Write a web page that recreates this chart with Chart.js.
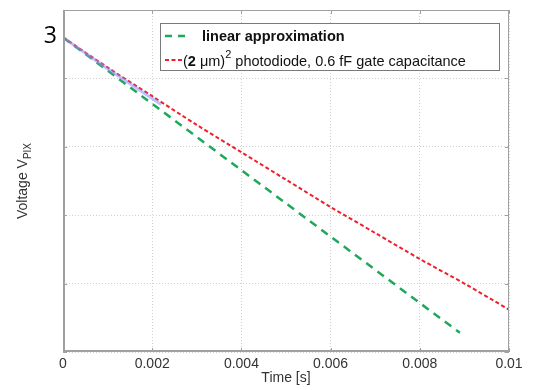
<!DOCTYPE html>
<html>
<head>
<meta charset="utf-8">
<script src="https://cdn.jsdelivr.net/npm/chart.js@4"></script>
<style>
  html, body { margin: 0; padding: 0; background: #fff; }
  #wrap { width: 536px; height: 390px; }
</style>
</head>
<body>
<div id="wrap"><canvas id="chart" width="536" height="390"></canvas></div>
<script>
// data
const photoTimes = [0, 0.001, 0.002, 0.003, 0.004, 0.005, 0.006, 0.007, 0.008, 0.009, 0.01];
const photoVolts = [3.0, 2.78, 2.57, 2.36, 2.16, 1.96, 1.76, 1.57, 1.38, 1.2, 1.01];
const linearTimes = [0, 0.0089];
const linearVolts = [3.0, 0.84];
const simTimes = [0, 0.001, 0.0022];
const simVolts = [3.0, 2.77, 2.51];
const xTicks = [0, 0.002, 0.004, 0.006, 0.008, 0.01];
const yGrid = [0.7, 1.2, 1.7, 2.2, 2.7, 3.2];
const startLabel = '3';
const startVolt = 3.0;

const GREEN = '#1fa85a';
const RED = '#f0202a';
const FONT = '"Liberation Sans", Arial, sans-serif';

function toPoints(xs, ys) {
    return xs.map((x, i) => ({ x: x, y: ys[i] }));
}

// frame, tick marks, legend box, y title and the "3" label
const decorPlugin = {
    id: 'decor',
    afterDatasetsDraw(chart) {
        const ctx = chart.ctx;
        const a = chart.chartArea;
        const xs = chart.scales.x, ys = chart.scales.y;
        ctx.save();

        // box around the plot
        ctx.strokeStyle = '#a0a0a0';
        ctx.lineWidth = 1;
        ctx.strokeRect(a.left + 0.5, a.top + 0.5, a.right - a.left - 1, a.bottom - a.top - 1);
        // bottom and left edges a bit heavier
        ctx.lineWidth = 2;
        ctx.beginPath();
        ctx.moveTo(a.left + 1, a.top); ctx.lineTo(a.left + 1, a.bottom - 1); ctx.lineTo(a.right, a.bottom - 1);
        ctx.stroke();
        ctx.lineWidth = 1;

        // inward tick marks
        ctx.beginPath();
        xTicks.forEach(t => {
            const px = Math.round(xs.getPixelForValue(t)) + 0.5;
            ctx.moveTo(px, a.top); ctx.lineTo(px, a.top + 4);
            ctx.moveTo(px, a.bottom); ctx.lineTo(px, a.bottom - 4);
        });
        yGrid.forEach(v => {
            const py = Math.round(ys.getPixelForValue(v)) + 0.5;
            ctx.moveTo(a.left, py); ctx.lineTo(a.left + 4, py);
            ctx.moveTo(a.right, py); ctx.lineTo(a.right - 4, py);
        });
        ctx.stroke();

        // legend
        const lx = 160, ly = 23, lw = 339, lh = 47;
        ctx.fillStyle = '#fff';
        ctx.fillRect(lx, ly, lw, lh);
        ctx.strokeStyle = '#7a7a7a';
        ctx.strokeRect(lx + 0.5, ly + 0.5, lw, lh);

        ctx.lineWidth = 2.5;
        ctx.strokeStyle = GREEN;
        ctx.setLineDash([7, 6]);
        ctx.beginPath(); ctx.moveTo(165, 36); ctx.lineTo(187, 36); ctx.stroke();

        ctx.lineWidth = 2;
        ctx.strokeStyle = RED;
        ctx.setLineDash([4, 2.5]);
        ctx.beginPath(); ctx.moveTo(165, 60); ctx.lineTo(182, 60); ctx.stroke();
        ctx.setLineDash([]);

        ctx.fillStyle = '#111';
        ctx.textBaseline = 'middle';
        ctx.textAlign = 'left';
        ctx.font = 'bold 14.5px ' + FONT;
        ctx.fillText('linear approximation', 202, 37);

        let x = 183;
        const y2 = 62;
        const parts = [
            { t: '(', f: '14.5px', dy: 0 },
            { t: '2', f: 'bold 14.5px', dy: 0 },
            { t: ' \u03bcm)', f: '14.5px', dy: 0 },
            { t: '2', f: '11px', dy: -7 },
            { t: ' photodiode, 0.6 fF gate capacitance', f: '14.5px', dy: 0 }
        ];
        parts.forEach(p => {
            ctx.font = p.f + ' ' + FONT;
            ctx.fillText(p.t, x, y2 + p.dy);
            x += ctx.measureText(p.t).width;
        });

        // start value label
        ctx.font = '23px "Open Sans", sans-serif';
        ctx.textAlign = 'right';
        ctx.fillStyle = '#000';
        ctx.fillText(startLabel, 57, ys.getPixelForValue(startVolt) - 1);

        // y axis title with subscript
        ctx.translate(23, (a.top + a.bottom) / 2);
        ctx.rotate(-Math.PI / 2);
        ctx.fillStyle = '#333';
        ctx.font = '14px ' + FONT;
        const main = 'Voltage V';
        const mw = ctx.measureText(main).width;
        ctx.font = '10px ' + FONT;
        const sw = ctx.measureText('PIX').width;
        const start = -(mw + sw) / 2;
        ctx.textAlign = 'left';
        ctx.font = '14px ' + FONT;
        ctx.fillText(main, start, 0);
        ctx.font = '10px ' + FONT;
        ctx.fillText('PIX', start + mw, 5);

        ctx.restore();
    }
};

new Chart(document.getElementById('chart'), {
    type: 'line',
    data: {
        datasets: [
            {
                label: 'linear approximation',
                data: toPoints(linearTimes, linearVolts),
                borderColor: GREEN,
                borderWidth: 2.5,
                borderDash: [8, 6],
                pointRadius: 0,
                order: 3
            },
            {
                label: '(2 \u03bcm)\u00b2 photodiode, 0.6 fF gate capacitance',
                data: toPoints(photoTimes, photoVolts),
                borderColor: RED,
                borderWidth: 2,
                borderDash: [4, 2.5],
                pointRadius: 0,
                tension: 0.3,
                order: 2
            },
            {
                label: 'simulation',
                data: toPoints(simTimes, simVolts),
                borderColor: 'rgba(140, 140, 255, 0.55)',
                borderWidth: 3,
                pointRadius: 0,
                order: 1
            }
        ]
    },
    options: {
        responsive: false,
        animation: false,
        layout: { padding: { top: 10, right: 27, left: 0, bottom: 0 } },
        plugins: {
            legend: { display: false },
            tooltip: { enabled: false }
        },
        scales: {
            x: {
                type: 'linear',
                min: 0,
                max: 0.01,
                afterBuildTicks: scale => { scale.ticks = xTicks.map(v => ({ value: v })); },
                afterFit: scale => { scale.height = 38; },
                grid: { color: '#d0d0d0', drawTicks: false, lineWidth: 1 },
                border: { display: false, dash: [1, 2] },
                ticks: {
                    padding: 4,
                    color: '#333',
                    font: { family: FONT, size: 14 },
                    maxRotation: 0,
                    callback: v => String(Number(v.toFixed(3)))
                },
                title: {
                    display: true,
                    text: 'Time [s]',
                    color: '#333',
                    font: { family: FONT, size: 14 },
                    padding: { top: 0, bottom: 3 }
                }
            },
            y: {
                type: 'linear',
                min: 0.7,
                max: 3.2,
                afterBuildTicks: scale => { scale.ticks = yGrid.map(v => ({ value: v })); },
                afterFit: scale => { scale.width = 63; },
                grid: { color: '#d0d0d0', drawTicks: false, lineWidth: 1 },
                border: { display: false, dash: [1, 2] },
                ticks: { display: false }
            }
        }
    },
    plugins: [decorPlugin]
});
</script>
</body>
</html>
